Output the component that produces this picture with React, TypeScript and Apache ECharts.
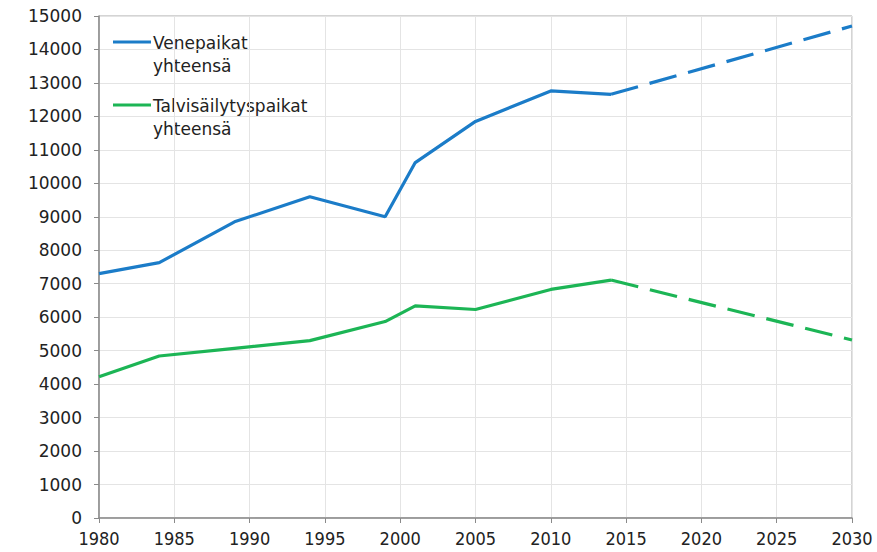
import React, { useEffect, useRef } from "react";
import * as echarts from "echarts";

const years = [1980, 1984, 1989, 1994, 1999, 2001, 2005, 2010, 2014];
const venepaikat = [7300, 7630, 8850, 9600, 9000, 10620, 11850, 12760, 12660];
const talvisailytys = [4220, 4840, 5070, 5300, 5870, 6340, 6230, 6830, 7110];
const projYears = [2014, 2030];
const venepaikatProj = [12660, 14700];
const talvisailytysProj = [7110, 5320];
const seriesNames = ["Venepaikat\nyhteensä", "Talvisäilytyspaikat\nyhteensä"];

const BLUE = "#1b7cc8";
const GREEN = "#1cb555";

const zip = (xs: number[], ys: number[]) => xs.map((x, i) => [x, ys[i]]);

export default function App() {
  const ref = useRef<HTMLDivElement>(null);
  useEffect(() => {
    if (!ref.current) return;
    const chart = echarts.init(ref.current, null, { renderer: "svg" });
    const font = "'DejaVu Sans', Verdana, sans-serif";
    const lineSeries = (name: string, data: number[][], color: string, dashed: boolean) => ({
      type: "line",
      name,
      data,
      symbol: "none",
      lineStyle: { color, width: 3.2, type: dashed ? [28, 12] : "solid" },
      itemStyle: { color },
      z: 3,
    });
    chart.setOption({
      animation: false,
      backgroundColor: "#ffffff",
      grid: {
        left: 99,
        right: 25,
        top: 16,
        bottom: 34,
        show: true,
        borderColor: "#a8a8a8",
        borderWidth: 1,
      },
      xAxis: {
        type: "value",
        min: 1980,
        max: 2030,
        interval: 5,
        axisLine: { show: true, lineStyle: { color: "#8a8a8a", width: 1.5 } },
        axisTick: { show: true, length: 5, lineStyle: { color: "#8a8a8a" } },
        splitLine: { show: true, lineStyle: { color: "#e4e4e4", width: 1 } },
        axisLabel: {
          color: "#222",
          fontSize: 18,
          fontFamily: "'DejaVu Sans Condensed', 'Liberation Sans Narrow', 'Liberation Sans', sans-serif",
          margin: 11,
          formatter: (v: number) => String(v),
        },
      },
      yAxis: {
        type: "value",
        min: 0,
        max: 15000,
        interval: 1000,
        axisLine: { show: true, lineStyle: { color: "#8a8a8a", width: 1.5 } },
        axisTick: { show: true, length: 5, lineStyle: { color: "#8a8a8a" } },
        splitLine: { show: true, lineStyle: { color: "#e4e4e4", width: 1 } },
        axisLabel: {
          color: "#222",
          fontSize: 17,
          fontFamily: font,
          margin: 17,
          formatter: (v: number) => String(v),
        },
      },
      series: [
        lineSeries(seriesNames[0], zip(years, venepaikat), BLUE, false),
        lineSeries(seriesNames[0] + " ennuste", zip(projYears, venepaikatProj), BLUE, true),
        lineSeries(seriesNames[1], zip(years, talvisailytys), GREEN, false),
        lineSeries(seriesNames[1] + " ennuste", zip(projYears, talvisailytysProj), GREEN, true),
      ],
      graphic: [
        {
          type: "line",
          shape: { x1: 113, y1: 42, x2: 151, y2: 42 },
          style: { stroke: BLUE, lineWidth: 3 },
        },
        {
          type: "text",
          x: 153,
          y: 31,
          style: {
            text: seriesNames[0],
            font: `17px ${font}`,
            fill: "#222",
            lineHeight: 23,
          },
        },
        {
          type: "line",
          shape: { x1: 113, y1: 105, x2: 151, y2: 105 },
          style: { stroke: GREEN, lineWidth: 3 },
        },
        {
          type: "text",
          x: 153,
          y: 94,
          style: {
            text: seriesNames[1],
            font: `17px ${font}`,
            fill: "#222",
            lineHeight: 23,
          },
        },
      ],
    });
    return () => chart.dispose();
  }, []);
  return <div ref={ref} style={{ width: 877, height: 552, position: "absolute", left: 0, top: 0 }} />;
}
